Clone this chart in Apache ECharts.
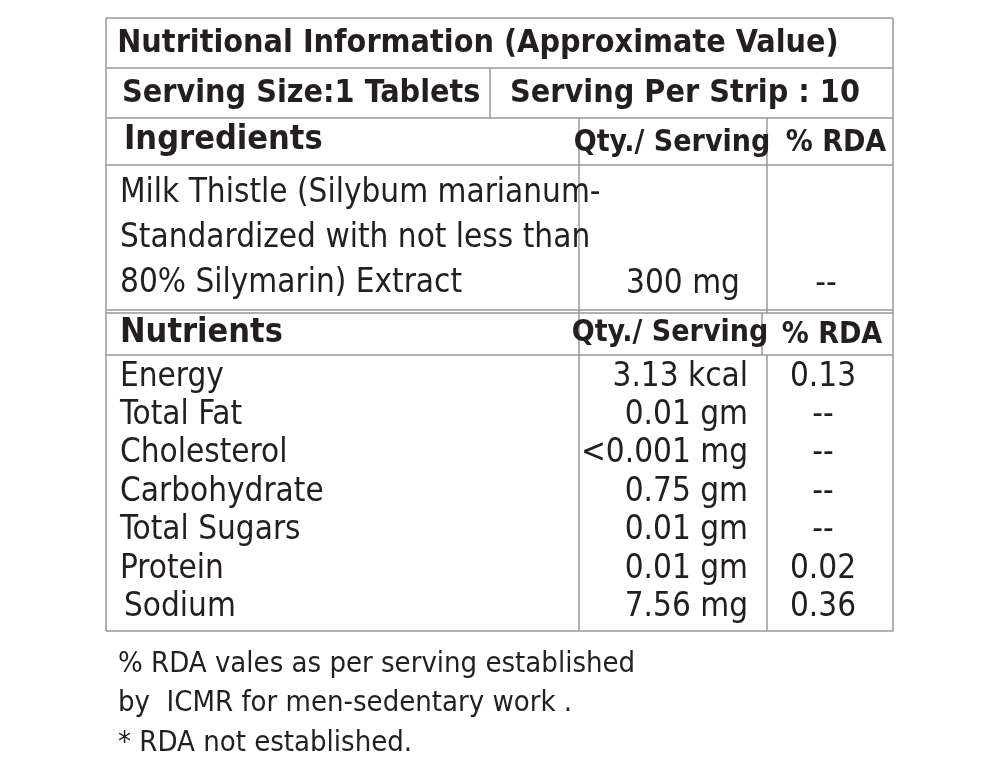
<!DOCTYPE html><html><head><meta charset="utf-8">
<script src="https://cdn.jsdelivr.net/npm/echarts@6/dist/echarts.min.js"></script>
<style>html,body{margin:0;background:#fff}#c{width:1000px;height:774px}</style></head><body><div id="c"></div>
<script>
const title = "Nutritional Information (Approximate Value)";
const servingSize = "Serving Size:1 Tablets";
const servingStrip = "Serving Per Strip : 10";
const ingHeader = ["Ingredients", "Qty./ Serving", "% RDA"];
const ingredientLines = ["Milk Thistle (Silybum marianum-", "Standardized with not less than", "80% Silymarin) Extract"];
const ingredientQty = "300 mg";
const ingredientRda = "--";
const nutHeader = ["Nutrients", "Qty./ Serving", "% RDA"];
const nutrients = ["Energy", "Total Fat", "Cholesterol", "Carbohydrate", "Total Sugars", "Protein", "Sodium"];
const nutrientQty = ["3.13 kcal", "0.01 gm", "<0.001 mg", "0.75 gm", "0.01 gm", "0.01 gm", "7.56 mg"];
const nutrientRda = ["0.13", "--", "--", "--", "--", "0.02", "0.36"];
const footer = ["% RDA vales as per serving established", "by  ICMR for men-sedentary work .", "* RDA not established."];

const F = "'Liberation Sans Narrow','DejaVu Sans Condensed',sans-serif";
const L = '#999';
const g = [];
function line(x1,y1,x2,y2){g.push({type:'line',shape:{x1,y1,x2,y2},style:{stroke:L,lineWidth:1.5}});}
function txt(t,x,y,size,bold,align){g.push({type:'text',x,y,style:{text:t,font:(bold?'bold ':'')+size+'px '+F,fill:'#231f20',align:align||'left',verticalAlign:'middle'}});}
// borders
line(106,18,893,18);line(106,631,893,631);line(106,18,106,631);line(893,18,893,631);
line(106,68,893,68);line(106,118,893,118);line(490,68,490,118);
line(106,165,893,165);line(106,310,893,310);line(106,313,893,313);line(106,355,893,355);
line(579,118,579,631);line(767,118,767,313);line(762,313,762,355);line(767,355,767,631);
txt(title,478,44,32,true,'center');
txt(servingSize,122,94,32,true);
txt(servingStrip,685,94,32,true,'center');
txt(ingHeader[0],124,140,34,true);txt(ingHeader[1],672,143,30,true,'center');txt(ingHeader[2],836,143,30,true,'center');
ingredientLines.forEach((t,i)=>txt(t,120,193+45*i,33,false));
txt(ingredientQty,683,284,33,false,'center');txt(ingredientRda,826,284,33,false,'center');
txt(nutHeader[0],120,333,34,true);txt(nutHeader[1],670,333,30,true,'center');txt(nutHeader[2],832,335,30,true,'center');
nutrients.forEach((n,i)=>{const y=377+38.4*i;txt(n,i==6?124:120,y,33,false);txt(nutrientQty[i],748,y,33,false,'right');txt(nutrientRda[i],823,y,33,false,'center');});
footer.forEach((t,i)=>txt(t,118,664+39.5*i,29,false));
const ch=echarts.init(document.getElementById('c'));
ch.setOption({animation:false,graphic:g});
</script></body></html>
